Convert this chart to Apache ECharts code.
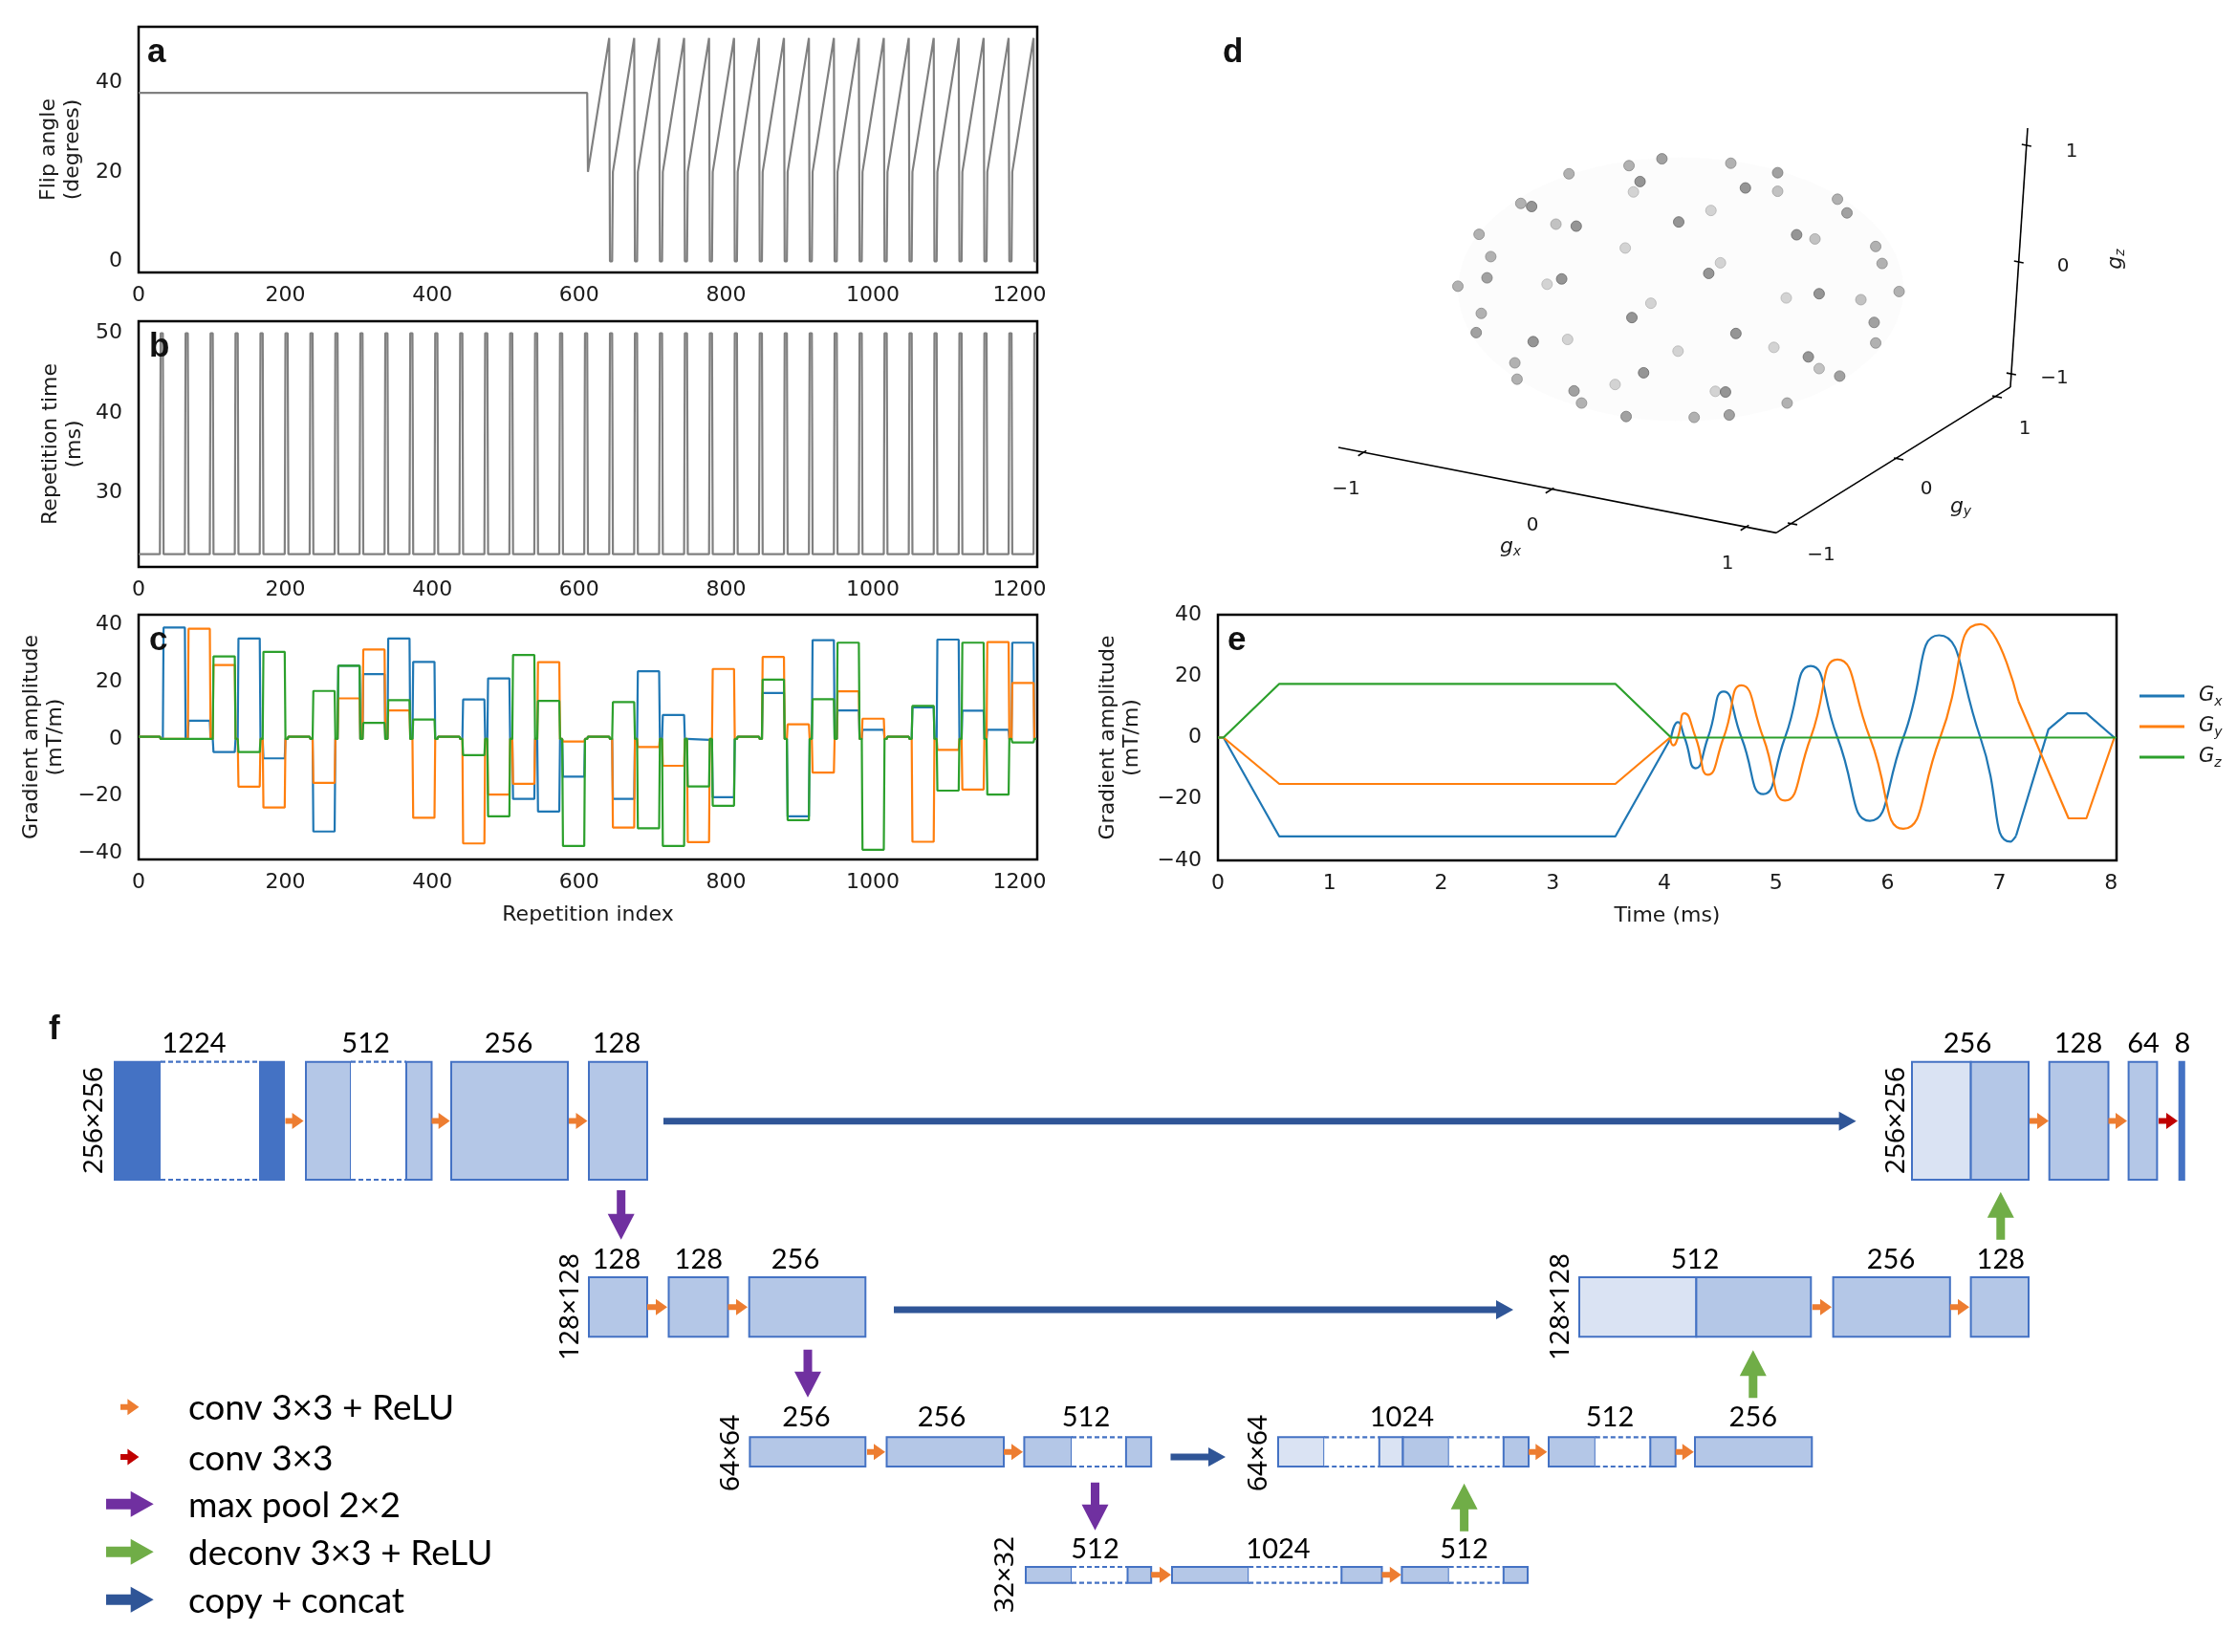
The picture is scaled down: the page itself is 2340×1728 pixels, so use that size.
<!DOCTYPE html>
<html><head><meta charset="utf-8"><title>MRF sequence and U-Net</title>
<script src="https://cdn.jsdelivr.net/npm/echarts@6.0.0/dist/echarts.min.js"></script>
<style>html,body{margin:0;padding:0;background:#fff;}#main{width:2340px;height:1728px;}</style>
</head><body><div id="main"></div>
<script>
// ================= DATA =================
const BLOCK_LEN = 34;   // repetitions per block
const ACTIVE_LEN = 30;  // repetitions that carry the block setting
const repTicks = [0, 200, 400, 600, 800, 1000, 1200];

// (a) flip angle per block: value at block start, at end of active part, during rest
const flipStart = [37.7,37.7,37.7,37.7,37.7,37.7,37.7,37.7,37.7,37.7,37.7,37.7,37.7,37.7,37.7,37.7,37.7,37.7,
                   20,20,20,20,20,20,20,20,20,20,20,20,20,20,20,20,20,20];
const flipEnd   = [37.7,37.7,37.7,37.7,37.7,37.7,37.7,37.7,37.7,37.7,37.7,37.7,37.7,37.7,37.7,37.7,37.7,37.7,
                   50,50,50,50,50,50,50,50,50,50,50,50,50,50,50,50,50,50];
const flipRest  = [37.7,37.7,37.7,37.7,37.7,37.7,37.7,37.7,37.7,37.7,37.7,37.7,37.7,37.7,37.7,37.7,37.7,37.7,
                   0,0,0,0,0,0,0,0,0,0,0,0,0,0,0,0,0,0];
const flipTicks = [0, 20, 40];

// (b) repetition time per block
const trActive = [22.3,22.3,22.3,22.3,22.3,22.3,22.3,22.3,22.3,22.3,22.3,22.3,22.3,22.3,22.3,22.3,22.3,22.3,
                  22.3,22.3,22.3,22.3,22.3,22.3,22.3,22.3,22.3,22.3,22.3,22.3,22.3,22.3,22.3,22.3,22.3,22.3];
const trRest   = [50,50,50,50,50,50,50,50,50,50,50,50,50,50,50,50,50,50,
                  50,50,50,50,50,50,50,50,50,50,50,50,50,50,50,50,50,50];
const trTicks = [30, 40, 50];

// (c) gradient amplitude per block (mT/m)
const gxBlock = [0.8,39.0,6.4,-4.6,35.2,-6.8,0.8,-32.4,25.6,22.7,35.2,27.0,0.8,13.8,21.2,-21.0,-25.4,-13.2,
                 0.8,-21.0,23.7,8.4,-0.3,-20.4,0.8,16.1,-27.1,34.6,10.0,3.2,0.8,11.1,34.8,9.9,3.2,33.7];
const gyBlock = [0.8,0,38.6,25.9,-16.7,-24.0,0.8,-15.4,14.2,31.3,10.0,-27.6,0.8,-36.6,-19.5,-15.7,26.9,-0.9,
                 0.8,-31.0,-2.8,-9.4,-36.1,24.5,0.8,28.7,5.1,-11.8,16.7,7.1,0.8,-36.0,-3.8,-17.7,33.9,19.6];
const gzBlock = [0.8,0,0,28.9,-4.6,30.5,0.8,16.8,25.6,5.6,13.6,6.8,0.8,-5.7,-27.1,29.4,13.3,-37.5,
                 0.8,12.9,-31.3,-37.5,-16.6,-23.4,0.8,20.8,-28.4,13.9,33.7,-38.8,0.8,11.6,-18.1,33.7,-19.5,-1.2];
const gradRest = 0;
const gradTicks = [-40, -20, 0, 20, 40];

// (d) gradient directions, projected (u, v) and depth shade (1 dark .. 5 light)
const dirU = [-0.076,-0.225,0.236,-0.497,0.448,-0.175,-0.205,0.302,0.448,-0.715,-0.666,0.719,0.762,0.146,0.000,
              -0.556,-0.464,-0.904,0.534,0.617,-0.242,0.892,-0.851,0.189,0.921,0.136,-0.868,-0.530,-0.596,-1.000,
              0.998,0.636,0.487,0.825,-0.126,-0.894,-0.212,0.885,-0.917,0.259,-0.659,-0.503,0.892,0.431,-0.003,
              0.587,-0.742,0.636,-0.159,0.729,-0.732,-0.288,-0.474,0.166,0.212,-0.440,0.491,-0.238,0.070,0.229];
const dirV = [0.584,0.553,0.564,0.516,0.521,0.481,0.434,0.452,0.437,0.382,0.368,0.401,0.339,0.350,0.298,
              0.288,0.279,0.242,0.240,0.221,0.180,0.187,0.141,0.113,0.110,0.065,0.045,0.040,0.016,0.007,
              -0.017,-0.027,-0.046,-0.054,-0.070,-0.116,-0.135,-0.157,-0.203,-0.207,-0.244,-0.234,-0.250,-0.270,-0.287,
              -0.313,-0.340,-0.366,-0.385,-0.400,-0.414,-0.438,-0.467,-0.469,-0.472,-0.522,-0.522,-0.583,-0.587,-0.576];
const dirShade = [2,3,3,3,2,1,5,1,4,3,1,3,2,5,1,4,1,3,1,4,5,3,3,5,3,1,2,1,5,3,
                  3,1,5,4,5,3,1,2,2,1,1,5,3,5,5,1,3,4,1,2,3,5,2,5,1,3,3,2,3,2];
// 3D axes of panel d in the same projected units
const axisGz = [[1.580,0.723],[1.502,-0.450]];
const axisGy = [[1.502,-0.450],[0.4416,-1.110]];
const axisGx = [[0.4416,-1.110],[-1.541,-0.723]];
const tickGx = [[-1.433,-0.749],[-0.584,-0.918],[0.299,-1.087]];
const tickGy = [[0.515,-1.069],[0.996,-0.775],[1.442,-0.494]];
const tickGz = [[1.506,-0.390],[1.540,0.117],[1.575,0.645]];

// (e) gradient waveforms (time ms, mT/m)
const gxRamp   = [[0,0],[0.05,0],[0.55,-32.2],[3.56,-32.2],[4.06,0]];
const gxSpiral = [[4.06,0],[4.12,5.0],[4.18,0],[4.28,-10.0],[4.39,0],[4.53,15.0],[4.69,0],[4.885,-18.4],[5.08,0],
                  [5.31,23.3],[5.55,0],[5.84,-27.1],[6.14,0],[6.46,33.3],[6.83,0],[7.10,-33.9],[7.15,-32.0]];
const gxTail   = [[7.15,-32.0],[7.44,2.7],[7.61,7.9],[7.78,7.9],[8.03,0]];
const gyRamp   = [[0,0],[0.05,0],[0.55,-15.1],[3.56,-15.1],[4.05,0]];
const gySpiral = [[4.05,0],[4.08,-2.5],[4.12,0],[4.18,7.9],[4.28,0],[4.39,-12.1],[4.53,0],[4.69,17.0],[4.885,0],
                  [5.08,-20.5],[5.31,0],[5.55,25.4],[5.84,0],[6.14,-29.7],[6.47,0],[6.83,36.9],[7.17,11.9]];
const gyTail   = [[7.17,11.9],[7.62,-26.3],[7.78,-26.3],[8.03,0]];
const gzWave   = [[0,0],[0.05,0],[0.55,17.5],[3.56,17.5],[4.06,0],[8.05,0]];
const timeTicks = [0,1,2,3,4,5,6,7,8];
const eTicks = [-40,-20,0,20,40];

// (f) U-Net blocks: [x0, x1, yTop, yBottom, kind] kind 0 dark, 1 mid, 2 light, 3 dashed/empty
const unetBlocks = [
 [120,168,1110.7,1234,0],[168,272,1110.7,1234,3],[272,297,1110.7,1234,0],
 [320,367,1110.7,1234,1],[367,425,1110.7,1234,3],[425,451.5,1110.7,1234,1],
 [472,594,1110.7,1234,1],[616,677,1110.7,1234,1],
 [2000,2061.6,1110.7,1234,2],[2061.6,2122,1110.7,1234,1],[2143.7,2205.5,1110.7,1234,1],
 [2226.6,2256.4,1110.7,1234,1],[2279.7,2284.8,1110.7,1234,0],
 [616,677,1336,1398.3,1],[699.5,761.5,1336,1398.3,1],[783.7,905.3,1336,1398.3,1],
 [1652,1774.4,1336,1398.3,2],[1774.4,1894.3,1336,1398.3,1],[1917.6,2039.8,1336,1398.3,1],[2061.6,2122,1336,1398.3,1],
 [784.4,905.3,1503.3,1534,1],[927.5,1050,1503.3,1534,1],
 [1071.4,1121,1503.3,1534,1],[1121,1177.9,1503.3,1534,3],[1177.9,1204.2,1503.3,1534,1],
 [1337,1385.2,1503.3,1534,2],[1385.2,1442.8,1503.3,1534,3],[1442.8,1467.5,1503.3,1534,2],
 [1467.5,1515.7,1503.3,1534,1],[1515.7,1572.8,1503.3,1534,3],[1572.8,1599,1503.3,1534,1],
 [1620,1668.8,1503.3,1534,1],[1668.8,1726.3,1503.3,1534,3],[1726.3,1752.7,1503.3,1534,1],
 [1773,1895.3,1503.3,1534,1],
 [1073,1121,1639,1655.7,1],[1121,1179.5,1639,1655.7,3],[1179.5,1204.2,1639,1655.7,1],
 [1226,1306.2,1639,1655.7,1],[1306.2,1403.3,1639,1655.7,3],[1403.3,1445.5,1639,1655.7,1],
 [1466.4,1515.7,1639,1655.7,1],[1515.7,1572.8,1639,1655.7,3],[1572.8,1598,1639,1655.7,1]
];
// arrows: [x0, y0, x1, y1, kind]  kinds: 0 conv, 1 conv out, 2 pool, 3 deconv, 4 copy, 5-7 legend big
const unetArrows = [
 [298.5,1172.4,317.6,1172.4,0],[451.5,1172.4,470.7,1172.4,0],[595,1172.4,614.5,1172.4,0],
 [2123,1172.4,2143,1172.4,0],[2205.5,1172.4,2225,1172.4,0],[2258,1172.4,2278,1172.4,1],
 [677,1367.2,698,1367.2,0],[761.5,1367.2,782,1367.2,0],[1895.8,1367.2,1916,1367.2,0],[2039.8,1367.2,2060,1367.2,0],
 [907,1518.7,926,1518.7,0],[1050,1518.7,1070,1518.7,0],[1599,1518.7,1618.3,1518.7,0],[1752.7,1518.7,1771.8,1518.7,0],
 [1204.2,1647.3,1225,1647.3,0],[1445.5,1647.3,1465.8,1647.3,0],
 [649.7,1245,649.7,1296.7,2],[845,1411.7,845,1461.7,2],[1145.5,1550.7,1145.5,1600.7,2],
 [2092.8,1296.7,2092.8,1246.7,3],[1833.8,1462.3,1833.8,1412.3,3],[1531.6,1601.7,1531.6,1551.7,3],
 [694,1172.7,1941.6,1172.7,4],[935,1370,1583,1370,4],[1224.5,1524,1282,1524,4],
 [126,1471.7,145.4,1471.7,0],[126,1524,145.4,1524,1],
 [111,1573.3,160.7,1573.3,5],[111,1623.3,160.7,1623.3,6],[111,1673.3,160.7,1673.3,7]
];
const unetLabels = [
 ['1224',203,1092],['512',382.6,1092],['256',532,1092],['128',645,1092],
 ['256',2058,1092],['128',2174,1092],['64',2242,1092],['8',2283,1092],
 ['128',645,1318],['128',730.8,1318],['256',832,1318],['512',1773,1318],['256',1978,1318],['128',2092.8,1318],
 ['256',843.4,1482.3],['256',985,1482.3],['512',1136,1482.3],['1024',1466.4,1482.3],['512',1684,1482.3],['256',1833.8,1482.3],
 ['512',1145.5,1620.7],['1024',1337,1620.7],['512',1531.6,1620.7]
];
const unetSizes = [
 ['256\u00d7256',99.5,1172],['128\u00d7128',597,1367],['64\u00d764',765.3,1520],['32\u00d732',1052.3,1647],
 ['256\u00d7256',1983.8,1172],['128\u00d7128',1632.6,1367],['64\u00d764',1316.6,1520]
];
const legendItems = [['conv 3\u00d73 + ReLU',1473.5],['conv 3\u00d73',1526],['max pool 2\u00d72',1575],
                     ['deconv 3\u00d73 + ReLU',1625],['copy + concat',1675]];

// ================= BUILD =================
function blockLine(a0, a1, rest){
  const pts = [];
  for (let k = 0; k < a0.length; k++){
    const r = k*BLOCK_LEN;
    const rv = Array.isArray(rest) ? rest[k] : rest;
    pts.push([r, a0[k]], [r+ACTIVE_LEN-1, a1[k]], [r+ACTIVE_LEN, rv], [r+BLOCK_LEN-1, rv]);
  }
  return pts;
}
const minusFmt = v => (v < 0 ? '\u2212' + (-v) : '' + v);
const TXT = '#1a1a1a';
const FF = 'DejaVu Sans';
function xAx(gi, min, max, ticks, name){
  return {type:'value', gridIndex:gi, min, max, axisLine:{show:false}, axisTick:{show:false}, splitLine:{show:false},
    axisLabel:{customValues:ticks, formatter:minusFmt, fontFamily:FF, fontSize:22, color:TXT, margin:13},
    name:name||'', nameLocation:'middle', nameGap:47, nameTextStyle:{fontFamily:FF, fontSize:22, color:TXT}};
}
function yAx(gi, min, max, ticks, name, gap){
  return {type:'value', gridIndex:gi, min, max, axisLine:{show:false}, axisTick:{show:false}, splitLine:{show:false},
    axisLabel:{customValues:ticks, formatter:minusFmt, fontFamily:FF, fontSize:22, color:TXT, margin:17},
    name, nameLocation:'middle', nameGap:gap, nameRotate:90,
    nameTextStyle:{fontFamily:FF, fontSize:22, lineHeight:25, color:TXT, align:'center'}};
}
const frame = {show:true, borderColor:'#000', borderWidth:2.5, backgroundColor:'rgba(0,0,0,0)'};
function ln(xi, data, color, extra){
  return Object.assign({type:'line', xAxisIndex:xi, yAxisIndex:xi, data, showSymbol:false, symbol:'none',
    color, itemStyle:{color}, lineStyle:{color, width:2.2}, animation:false, silent:true}, extra||{});
}
const C_X = '#1f77b4', C_Y = '#ff7f0e', C_Z = '#2ca02c';

// panel d line segments
const d3Lines = [{coords:axisGz},{coords:axisGy},{coords:axisGx}];
function tickSeg(p, dir, len){ return {coords:[[p[0]-dir[0]*len, p[1]-dir[1]*len],[p[0]+dir[0]*len, p[1]+dir[1]*len]]}; }
tickGx.forEach(p => d3Lines.push(tickSeg(p,[0.849,0.528],0.022)));
tickGy.forEach(p => d3Lines.push(tickSeg(p,[-0.981,0.191],0.022)));
tickGz.forEach(p => d3Lines.push(tickSeg(p,[-0.981,0.191],0.022)));
const shadeCol = ['#7a7a7a','#898989','#9d9d9d','#b3b3b3','#c8c8c8'];
const shadeEdge = ['#666','#757575','#888','#9f9f9f','#b3b3b3'];
const dirData = dirU.map((u,i) => ({value:[u, dirV[i]], itemStyle:{color:shadeCol[dirShade[i]-1], borderColor:shadeEdge[dirShade[i]-1], borderWidth:1}}));

// U-Net renderers
const blockFill = ['#4472c4','#b4c7e7','#dae3f3','#ffffff'];
function renderBlock(params, api){
  const p0 = api.coord([api.value(0), api.value(2)]);
  const p1 = api.coord([api.value(1), api.value(3)]);
  const kind = api.value(4);
  const w = p1[0]-p0[0], h = p1[1]-p0[1];
  if (kind === 3){
    const ds = {stroke:'#4472c4', lineWidth:2.2, lineDash:[5,3]};
    return {type:'group', children:[
      {type:'rect', shape:{x:p0[0], y:p0[1], width:w, height:h}, style:{fill:'#fff'}},
      {type:'line', shape:{x1:p0[0], y1:p0[1], x2:p1[0], y2:p0[1]}, style:ds},
      {type:'line', shape:{x1:p0[0], y1:p1[1], x2:p1[0], y2:p1[1]}, style:ds}
    ]};
  }
  return {type:'rect', shape:{x:p0[0], y:p0[1], width:w, height:h}, style:{fill:blockFill[kind], stroke:'#4472c4', lineWidth:2}};
}
const arrowStyle = [
  {color:'#ed7d31', shaft:6, headW:17, headL:12},
  {color:'#c00000', shaft:6, headW:17, headL:12},
  {color:'#7030a0', shaft:9, headW:28, headL:27},
  {color:'#70ad47', shaft:9, headW:28, headL:27},
  {color:'#2f5597', shaft:7, headW:20, headL:18},
  {color:'#7030a0', shaft:11, headW:27, headL:24},
  {color:'#70ad47', shaft:11, headW:27, headL:24},
  {color:'#2f5597', shaft:11, headW:27, headL:24}
];
function renderArrow(params, api){
  const s = arrowStyle[api.value(4)];
  const a = api.coord([api.value(0), api.value(1)]);
  const b = api.coord([api.value(2), api.value(3)]);
  const dx = b[0]-a[0], dy = b[1]-a[1], L = Math.hypot(dx,dy);
  const ux = dx/L, uy = dy/L, nx = -uy, ny = ux;
  const hx = b[0]-ux*s.headL, hy = b[1]-uy*s.headL;
  const P = (px,py,k) => [px+nx*k, py+ny*k];
  const pts = [P(a[0],a[1],-s.shaft/2), P(hx,hy,-s.shaft/2), P(hx,hy,-s.headW/2), [b[0],b[1]],
               P(hx,hy,s.headW/2), P(hx,hy,s.shaft/2), P(a[0],a[1],s.shaft/2)];
  return {type:'polygon', shape:{points:pts}, style:{fill:s.color}};
}

// ================= GRAPHIC TEXT =================
const G = [];
function txt(text, x, y, o){
  G.push({type:'text', x, y, z:50, rotation:(o&&o.rot)||0,
    style:Object.assign({text, fill:'#000', fontFamily:FF, fontSize:22, align:'center', verticalAlign:'middle'}, (o&&o.style)||{})});
}
const letterStyle = {fontFamily:'Liberation Sans', fontWeight:'bold', fontSize:35, align:'left', fill:'#111'};
txt('a',154,55,{style:letterStyle});
txt('b',156,363,{style:letterStyle});
txt('c',156,670,{style:letterStyle});
txt('d',1279,55,{style:letterStyle});
txt('e',1284,670,{style:letterStyle});
txt('f',51,1077,{style:letterStyle});
// panel d tick labels
const dl = {fontSize:20, fill:TXT};
[['1',2167,159],['0',2158,279],['\u22121',2149,396],
 ['1',2118,449],['0',2015,512],['\u22121',1905,581],
 ['\u22121',1408,512],['0',1603,550],['1',1807,590]].forEach(t => txt(t[0],t[1],t[2],{style:dl}));
const gRich = {g:{fontFamily:FF, fontStyle:'italic', fontSize:22, fill:TXT}, s:{fontFamily:FF, fontStyle:'italic', fontSize:14, fill:TXT, padding:[10,0,0,0]}};
txt('{g|g}{s|x}',1580,572,{style:{rich:gRich}});
txt('{g|g}{s|y}',2051,530,{style:{rich:gRich}});
txt('{g|g}{s|z}',2213,271,{rot:Math.PI/2, style:{rich:gRich}});
// U-Net labels
unetLabels.forEach(t => txt(t[0],t[1],t[2],{style:{fontFamily:'Lato', fontSize:29}}));
unetSizes.forEach(t => txt(t[0],t[1],t[2],{rot:Math.PI/2, style:{fontFamily:'Noto Sans', fontSize:28}}));
legendItems.forEach(t => txt(t[0],197,t[1],{style:{fontFamily:'Lato', fontSize:37, align:'left'}}));

// ================= OPTION =================
const option = {
  backgroundColor:'#fff',
  animation:false,
  grid:[
    Object.assign({left:145, top:28, width:940, height:257}, frame),
    Object.assign({left:145, top:336, width:940, height:257}, frame),
    Object.assign({left:145, top:643, width:940, height:256}, frame),
    Object.assign({left:1274, top:643, width:940, height:257}, frame),
    {left:1290, top:40, width:950, height:580, show:false},
    {left:0, top:1040, width:2340, height:688, show:false}
  ],
  xAxis:[
    xAx(0, 0, 1224, repTicks),
    xAx(1, 0, 1224, repTicks),
    xAx(2, 0, 1224, repTicks, 'Repetition index'),
    xAx(3, 0, 8.05, timeTicks, 'Time (ms)'),
    {type:'value', gridIndex:4, min:-2.0173, max:2.0952, show:false},
    {type:'value', gridIndex:5, min:0, max:2340, show:false}
  ],
  yAxis:[
    yAx(0, -2.5, 52.5, flipTicks, 'Flip angle\n(degrees)', 56),
    yAx(1, 20.7, 51.5, trTicks, 'Repetition time\n(ms)', 54),
    yAx(2, -42.2, 43.5, gradTicks, 'Gradient amplitude\n(mT/m)', 74),
    yAx(3, -40, 40, eTicks, 'Gradient amplitude\n(mT/m)', 77),
    {type:'value', gridIndex:4, min:-1.3810, max:1.1299, show:false},
    {type:'value', gridIndex:5, min:1040, max:1728, inverse:true, show:false}
  ],
  legend:{
    data:['Gx','Gy','Gz'], orient:'vertical', left:2233, top:710, icon:'rect', itemWidth:47, itemHeight:3, itemGap:6,
    selectedMode:false,
    formatter: n => '{sp| }{g|G}{s|' + n.slice(1) + '}',
    textStyle:{rich:{
      sp:{width:10, fontSize:10, lineHeight:30},
      g:{fontFamily:FF, fontStyle:'italic', fontSize:21, lineHeight:30, color:TXT},
      s:{fontFamily:FF, fontStyle:'italic', fontSize:14, lineHeight:30, color:TXT, padding:[12,0,0,0]}
    }}
  },
  graphic:{elements:G},
  series:[
    ln(0, blockLine(flipStart, flipEnd, flipRest), '#808080'),
    ln(1, blockLine(trActive, trActive, trRest), '#808080'),
    ln(2, blockLine(gxBlock, gxBlock, gradRest), C_X),
    ln(2, blockLine(gyBlock, gyBlock, gradRest), C_Y),
    ln(2, blockLine(gzBlock, gzBlock, gradRest), C_Z),
    ln(3, gxRamp, C_X, {name:'Gx'}),
    ln(3, gxSpiral, C_X, {name:'Gx', smooth:0.6}),
    ln(3, gxTail, C_X, {name:'Gx'}),
    ln(3, gyRamp, C_Y, {name:'Gy'}),
    ln(3, gySpiral, C_Y, {name:'Gy', smooth:0.6}),
    ln(3, gyTail, C_Y, {name:'Gy'}),
    ln(3, gzWave, C_Z, {name:'Gz'}),
    {type:'scatter', xAxisIndex:4, yAxisIndex:4, data:[[0.009,-0.007]], symbolSize:[466,276], silent:true, z:1,
     itemStyle:{color:'#fbfbfb'}},
    {type:'scatter', xAxisIndex:4, yAxisIndex:4, data:dirData, symbolSize:11, silent:true, z:3},
    {type:'lines', coordinateSystem:'cartesian2d', xAxisIndex:4, yAxisIndex:4, data:d3Lines, silent:true,
     lineStyle:{color:'#000', width:1.6, opacity:1}, z:2},
    {type:'custom', xAxisIndex:5, yAxisIndex:5, data:unetBlocks, renderItem:renderBlock, silent:true,
     encode:{x:[0,1], y:[2,3]}, clip:false, z:3},
    {type:'custom', xAxisIndex:5, yAxisIndex:5, data:unetArrows, renderItem:renderArrow, silent:true,
     encode:{x:[0,2], y:[1,3]}, clip:false, z:4}
  ]
};
const chart = echarts.init(document.getElementById('main'), null, {renderer:'canvas', width:2340, height:1728});
chart.setOption(option);
</script>
</body></html>
